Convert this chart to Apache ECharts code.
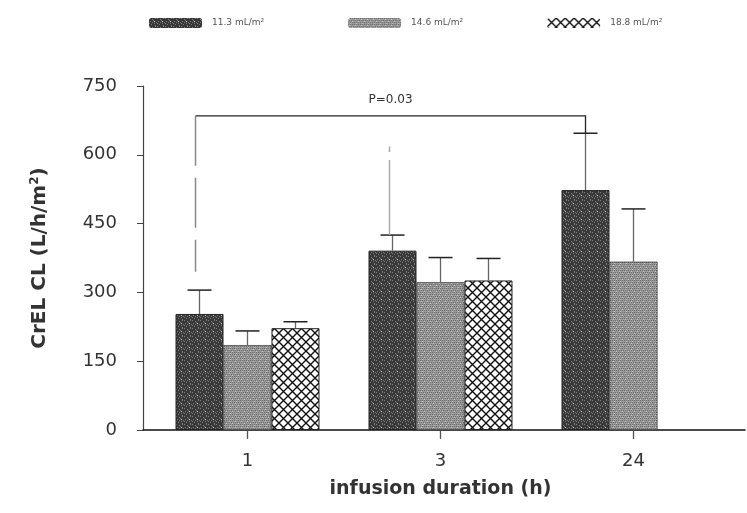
<!DOCTYPE html>
<html>
<head>
<meta charset="utf-8">
<script src="https://cdn.jsdelivr.net/npm/echarts@6/dist/echarts.min.js"></script>
<style>html,body{margin:0;padding:0;background:#fff}#c{width:747px;height:513px}</style>
</head>
<body>
<div id="c"></div>
<script>
// ---- data ----
const categories = ['1', '3', '24'];
const seriesNames = ['11.3 mL/m²', '14.6 mL/m²', '18.8 mL/m²'];
const dose113 = [253, 391, 523];
const dose146 = [185, 322, 367];
const dose188 = [222, 326];          // no bar at 24 h
const sd113 = [52, 34, 124];
const sd146 = [31, 54, 115];
const sd188 = [14, 48];
const yTicks = [0, 150, 300, 450, 600, 750];
const bracketCats = [0, 2];          // group 1 vs group 24 (first series)
const bracketLevels = [685, 345, 647]; // top, left leg end, right leg end
const pLabel = 'P=0.03';
const faintStem = [1, 0, 425, 618];  // category, series, from, to

// ---- patterns ----
function mk(w, h, draw) { const c = document.createElement('canvas'); c.width = w; c.height = h; draw(c.getContext('2d')); return c; }
const darkPat = mk(8, 8, g => {
  g.fillStyle = '#383838'; g.fillRect(0, 0, 8, 8);
  g.fillStyle = '#808080';
  [[0,0],[3,1],[6,0],[1,3],[4,2],[7,4],[2,6],[5,5],[0,5],[6,7],[3,4]].forEach(p => g.fillRect(p[0], p[1], 1, 1));
  g.fillStyle = '#d0d0d0'; g.fillRect(5, 3, 1, 1);
});
const grayPat = mk(6, 6, g => {
  g.fillStyle = '#9a9a9a'; g.fillRect(0, 0, 6, 6);
  g.fillStyle = '#6a6a6a';
  [[0,0],[2,0],[4,0],[1,2],[3,2],[5,2],[0,4],[2,4],[4,4]].forEach(p => g.fillRect(p[0], p[1], 1, 1));
  g.fillStyle = '#c8c8c8';
  [[1,1],[4,3],[2,5]].forEach(p => g.fillRect(p[0], p[1], 1, 1));
});
const crossPat = mk(9, 9, g => {
  g.fillStyle = '#fff'; g.fillRect(0, 0, 9, 9);
  g.strokeStyle = '#111'; g.lineWidth = 1.4;
  g.beginPath();
  g.moveTo(-1, -1); g.lineTo(10, 10);
  g.moveTo(-1, 10); g.lineTo(10, -1);
  g.stroke();
});
const pats = [darkPat, grayPat, crossPat];
const values = [dose113, dose146, dose188];
const sds = [sd113, sd146, sd188];

const GAP = 0.254;
function barX(api, cat, k) {
  const band = api.size([1, 0])[0];
  const bw = band * (1 - GAP) / 3;
  return api.coord([cat, 0])[0] + (k - 1) * bw;
}

const series = [];
for (let k = 0; k < 3; k++) {
  series.push({
    name: seriesNames[k], type: 'bar', xAxisIndex: 0, yAxisIndex: 0,
    barGap: '0%', barCategoryGap: (GAP * 100) + '%',
    itemStyle: { color: { image: pats[k], repeat: 'repeat' }, borderColor: '#222', borderWidth: k === 1 ? 0.6 : 1 },
    data: values[k], z: 2
  });
}
for (let k = 0; k < 3; k++) {
  const d = [];
  values[k].forEach((v, i) => { if (typeof v === 'number' && typeof sds[k][i] === 'number') d.push([i, v, sds[k][i]]); });
  series.push({
    type: 'custom', xAxisIndex: 0, yAxisIndex: 0, z: 3, silent: true,
    data: d,
    renderItem: (params, api) => {
      const cat = api.value(0), v = api.value(1), s = api.value(2);
      const x = barX(api, cat, k);
      const y0 = api.coord([cat, v])[1], y1 = api.coord([cat, v + s])[1];
      return { type: 'group', children: [
        { type: 'line', shape: { x1: x, y1: y0, x2: x, y2: y1 }, style: { stroke: '#666', lineWidth: 1.3 } },
        { type: 'line', shape: { x1: x - 12, y1: y1, x2: x + 12, y2: y1 }, style: { stroke: '#222', lineWidth: 1.5 } }
      ]};
    }
  });
}
// significance bracket
series.push({
  type: 'custom', xAxisIndex: 0, yAxisIndex: 0, z: 4, silent: true,
  data: [[bracketCats[0], bracketCats[1]]],
  renderItem: (params, api) => {
    const xa = barX(api, bracketCats[0], 0) - 4, xb = barX(api, bracketCats[1], 0);
    const yt = api.coord([0, bracketLevels[0]])[1];
    const yl = api.coord([0, bracketLevels[1]])[1];
    const yr = api.coord([0, bracketLevels[2]])[1];
    const fx = barX(api, faintStem[0], faintStem[1]) - 3;
    const fy0 = api.coord([0, faintStem[2]])[1], fy1 = api.coord([0, faintStem[3]])[1];
    return { type: 'group', children: [
      { type: 'polyline', shape: { points: [[xa, yt], [xb, yt], [xb, yr]] }, style: { stroke: '#222', lineWidth: 1.3, fill: null } },
      { type: 'line', shape: { x1: xa, y1: yt, x2: xa, y2: yl }, style: { stroke: '#888', lineWidth: 1.5, lineDash: [50, 12] } },
      { type: 'line', shape: { x1: fx, y1: fy0, x2: fx, y2: fy1 }, style: { stroke: '#aaa', lineWidth: 1.5, lineDash: [75, 8] } },
      { type: 'text', x: (xa + xb) / 2, y: yt - 10, style: { text: pLabel, fill: '#333', fontSize: 12, fontFamily: 'DejaVu Sans', align: 'center', verticalAlign: 'bottom' } }
    ]};
  }
});

const chart = echarts.init(document.getElementById('c'), null, { renderer: 'canvas' });
chart.setOption({
  animation: false,
  backgroundColor: '#fff',
  legend: {
    data: seriesNames, left: 144, top: 13, itemWidth: 53, itemHeight: 10, itemGap: 84,
    itemStyle: { borderWidth: 0 },
    textStyle: { fontSize: 9, color: '#555', fontFamily: 'DejaVu Sans', padding: [0, 0, 0, 5] }
  },
  grid: [
    { left: 151, right: 17, top: 86, bottom: 83 },
    { left: 143, right: 2, top: 86, bottom: 83 }
  ],
  xAxis: [
    { type: 'category', gridIndex: 0, data: categories,
      axisLine: { show: false },
      axisTick: { show: true, alignWithLabel: true, length: 9, lineStyle: { color: '#555', width: 1.3 } },
      axisLabel: { fontSize: 18, color: '#333', fontFamily: 'DejaVu Sans', margin: 22 },
      name: 'infusion duration (h)', nameLocation: 'middle', nameGap: 50,
      nameTextStyle: { fontSize: 19, fontWeight: 'bold', color: '#333', fontFamily: 'DejaVu Sans' } },
    { type: 'value', gridIndex: 1, min: 0, max: 1,
      axisLine: { show: true, onZero: false, lineStyle: { color: '#111', width: 1.5 } },
      axisTick: { show: false }, axisLabel: { show: false }, splitLine: { show: false } }
  ],
  yAxis: [
    { type: 'value', gridIndex: 0, min: yTicks[0], max: yTicks[yTicks.length - 1], interval: 150, offset: 8,
      axisLine: { show: true, lineStyle: { color: '#444', width: 1.2 } },
      axisTick: { show: true, length: 6, lineStyle: { color: '#444' } },
      axisLabel: { fontSize: 18, color: '#333', fontFamily: 'DejaVu Sans', margin: 26 },
      splitLine: { show: false },
      name: 'CrEL CL (L/h/m{sup|2})', nameLocation: 'middle', nameGap: 92, nameRotate: 90,
      nameTextStyle: { fontSize: 20, fontWeight: 'bold', color: '#333', fontFamily: 'DejaVu Sans',
        rich: { sup: { fontSize: 12, fontWeight: 'bold', color: '#333', verticalAlign: 'top', padding: [0, 0, 10, 0] } } } },
    { type: 'value', gridIndex: 1, show: false, min: 0, max: 1 }
  ],
  series: series
});
</script>
</body>
</html>
